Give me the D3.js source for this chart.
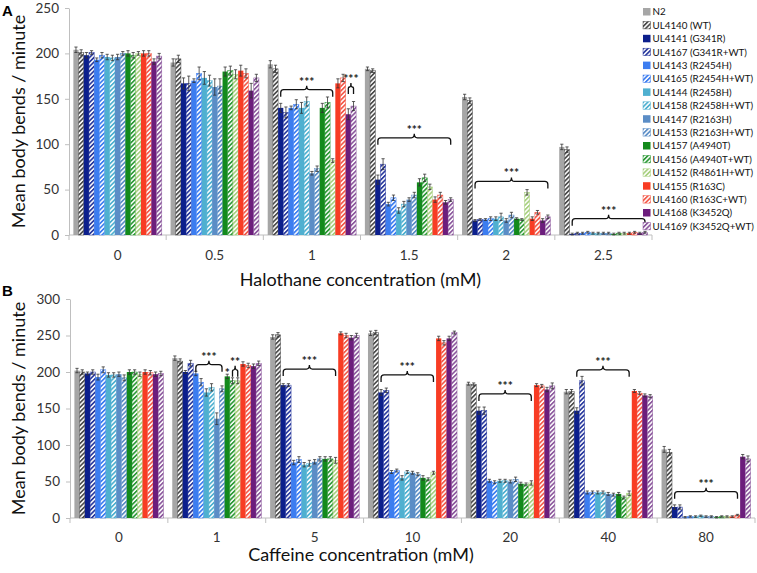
<!DOCTYPE html>
<html><head><meta charset="utf-8">
<script src="https://cdn.jsdelivr.net/npm/d3@7"></script>
<style>body{margin:0;background:#fff}svg{display:block}text{font-family:Lato,"Open Sans",sans-serif}</style>
</head><body><svg id="c" width="757" height="573"></svg>
<script>
// ---------- DATA ----------
const strains = ["N2","UL4140 (WT)","UL4141 (G341R)","UL4167 (G341R+WT)","UL4143 (R2454H)","UL4165 (R2454H+WT)","UL4144 (R2458H)","UL4158 (R2458H+WT)","UL4147 (R2163H)","UL4153 (R2163H+WT)","UL4157 (A4940T)","UL4156 (A4940T+WT)","UL4152 (R4861H+WT)","UL4155 (R163C)","UL4160 (R163C+WT)","UL4168 (K3452Q)","UL4169 (K3452Q+WT)"];
const strainColors = ["#a6a6a6","#4d4d4d","#0c1f8c","#2a3a9e","#3c7df0","#3c7df0","#4fb0d0","#4fb0d0","#5b8dc6","#5b8dc6","#138a1c","#2e9a38","#a8d080","#f83c24","#f35a4a","#6c1d7c","#8d5a9e"];
const strainHatched = [false,true,false,true,false,true,false,true,false,true,false,true,true,false,true,false,true];

const halothaneLabels = ["0","0.5","1","1.5","2","2.5"];
const halothane0  = [204,201,198,201,193,198,196,195,196,200,200,198,200,200,200,191,197];
const halothane05 = [190,194,167,167,170,178,173,170,163,164,180,181,177,181,178,159,173];
const halothane1  = [188,183,140,135,140,144,140,147,68,73,140,146,82,167,173,133,142];
const halothane15 = [183,181,61,78,34,41,27,34,39,44,58,63,53,39,44,36,39];
const halothane2  = [152,148,16,17,17,18,18,20,16,22,18,17,47,18,25,16,20];
const halothane25 = [97,94,1,2,2,3,2,2,2,2,1,2,2,2,3,2,3];
const halothaneErr0  = [3,3,3,2,2,3,3,3,3,2,3,3,2,3,3,3,3];
const halothaneErr05 = [4,4,6,8,2,7,7,6,9,8,5,5,5,6,5,8,4];
const halothaneErr1  = [4,4,5,6,2,5,6,5,2,3,5,6,2,5,4,6,5];
const halothaneErr15 = [2,2,5,6,2,3,3,3,2,3,4,4,3,3,3,2,2];
const halothaneErr2  = [3,3,1,1,1,2,2,4,2,3,1,1,3,2,2,2,2];
const halothaneErr25 = [3,3,1,1,1,1,1,1,1,1,1,1,1,1,1,1,1];
const halothaneBrackets = [
  {group:2, from:2, to:12, level:160, label:"***"},
  {group:2, from:15, to:16, level:163, label:"***"},
  {group:3, from:2, to:16, level:107, label:"***"},
  {group:4, from:2, to:16, level:59, label:"***"},
  {group:5, from:2, to:16, level:18, label:"***"}
];
const halothaneStars = [];

const caffeineLabels = ["0","1","5","10","20","40","80"];
const caffeine0  = [202,200,198,200,193,203,196,196,197,192,200,200,197,200,199,197,198];
const caffeine1  = [219,215,200,212,198,186,172,179,136,177,194,188,188,211,209,208,212];
const caffeine5  = [248,251,182,182,76,80,73,75,77,81,81,81,79,253,250,247,250];
const caffeine10 = [253,254,172,175,63,65,55,63,62,60,55,53,62,246,240,246,254];
const caffeine20 = [184,183,147,147,51,49,51,51,50,53,47,46,48,182,181,176,181];
const caffeine40 = [173,173,147,188,35,35,35,35,33,32,33,28,34,174,171,168,167];
const caffeine80 = [94,90,15,15,1,2,2,3,2,2,1,2,2,2,4,84,81];
const caffeineErr0  = [3,3,2,3,4,4,3,3,3,4,3,3,3,3,3,3,3];
const caffeineErr1  = [3,3,2,4,3,5,5,5,8,4,3,4,4,3,3,3,3];
const caffeineErr5  = [3,3,2,2,3,4,3,4,3,3,3,3,4,2,3,3,3];
const caffeineErr10 = [3,3,4,3,2,2,3,2,2,2,3,2,2,3,3,3,2];
const caffeineErr20 = [2,2,5,5,2,2,2,2,2,3,2,2,3,2,2,3,4];
const caffeineErr40 = [3,3,4,6,2,2,2,2,2,2,2,2,3,2,2,2,2];
const caffeineErr80 = [4,4,3,3,1,1,1,1,1,1,1,1,1,1,1,3,4];
const caffeineBrackets = [
  {group:1, from:4, to:9, level:210, label:"***"},
  {group:1, from:11, to:12, level:203, label:"**"},
  {group:2, from:2, to:12, level:204, label:"***"},
  {group:3, from:2, to:12, level:196, label:"***"},
  {group:4, from:2, to:12, level:170, label:"***"},
  {group:5, from:2, to:12, level:203, label:"***"},
  {group:6, from:2, to:14, level:36, label:"***"}
];
const caffeineStars = [{group:1, at:10, level:195, label:"*"}];

const yTicksA = [0,50,100,150,200,250];
const yTicksB = [0,50,100,150,200,250,300];

// ---------- DRAW ----------
const svg = d3.select("#c");
svg.append("rect").attr("width",757).attr("height",573).attr("fill","#fff");
const defs = svg.append("defs");
strains.forEach((s,i)=>{
  if(!strainHatched[i]) return;
  const p = defs.append("pattern").attr("id","hatch"+i).attr("patternUnits","userSpaceOnUse")
    .attr("width",3.2).attr("height",3.2).attr("patternTransform","rotate(45)");
  p.append("rect").attr("width",3.2).attr("height",3.2).attr("fill","#fff");
  p.append("rect").attr("width",1.7).attr("height",3.2).attr("fill",strainColors[i]);
});
const fillOf = i => strainHatched[i] ? `url(#hatch${i})` : strainColors[i];

function drawPanel(o){
  const g = svg.append("g");
  const gx = d3.scaleBand().domain(o.labels).range([o.x0,o.x1]).paddingInner(0.09).paddingOuter(0.045);
  const ix = d3.scaleBand().domain(d3.range(strains.length)).range([0,gx.bandwidth()]);
  const y = d3.scaleLinear().domain([0,o.yMax]).range([o.y0,o.y1]);

  // y axis
  const ya = g.append("g").attr("transform",`translate(${o.x0},0)`)
    .call(d3.axisLeft(y).tickValues(o.yTicks).tickSize(4).tickSizeOuter(0).tickPadding(6));
  ya.select(".domain").attr("stroke","#bfbfbf");
  ya.selectAll(".tick line").attr("stroke","#bfbfbf");
  ya.selectAll(".tick text").attr("font-size",13.5).attr("fill","#333").style("font-family","Lato, sans-serif");

  // x axis
  g.append("line").attr("x1",o.x0).attr("x2",o.x1).attr("y1",y(0)).attr("y2",y(0)).attr("stroke","#bfbfbf");
  d3.range(o.labels.length+1).forEach(i=>{
    const bx = o.x0 + i*gx.step();
    g.append("line").attr("x1",bx).attr("x2",bx).attr("y1",y(0)).attr("y2",y(0)+5).attr("stroke","#bfbfbf");
  });
  g.selectAll(".xl").data(o.labels).join("text")
    .attr("x",d=>gx(d)+gx.bandwidth()/2).attr("y",o.labelY).attr("dy","0.35em")
    .attr("text-anchor","middle").attr("font-size",13.5).attr("fill","#333").text(d=>d);

  // bars
  o.values.forEach((vals,gi)=>{
    const gl = o.labels[gi];
    const bg = g.append("g").attr("transform",`translate(${gx(gl)},0)`);
    vals.forEach((v,si)=>{
      bg.append("rect").attr("x",ix(si)).attr("width",ix.bandwidth())
        .attr("y",y(v)).attr("height",y(0)-y(v)).attr("fill",fillOf(si))
        .attr("stroke",strainHatched[si]?strainColors[si]:"none").attr("stroke-width",0.5);
      const e = o.errors[gi][si];
      const cx = ix(si)+ix.bandwidth()/2;
      const top = y(v+e), bot = y(Math.max(0,v-e));
      bg.append("line").attr("x1",cx).attr("x2",cx).attr("y1",top).attr("y2",bot).attr("stroke","#333").attr("stroke-width",0.8);
      [top,bot].forEach(yy=>bg.append("line").attr("x1",cx-1.6).attr("x2",cx+1.6).attr("y1",yy).attr("y2",yy).attr("stroke","#333").attr("stroke-width",0.8));
    });
  });

  // brackets
  o.brackets.forEach(b=>{
    const base = gx(o.labels[b.group]);
    const x1 = base + ix(b.from) + ix.bandwidth()/2;
    const x2 = base + ix(b.to) + ix.bandwidth()/2;
    const yy = y(b.level);
    const m = (x1+x2)/2, w = x2-x1;
    const r = Math.min(3, w/4), h = 7, bump = 4;
    const path = `M${x1},${yy+h} L${x1},${yy+r} Q${x1},${yy} ${x1+r},${yy} L${m-r},${yy} Q${m},${yy} ${m},${yy-bump} Q${m},${yy} ${m+r},${yy} L${x2-r},${yy} Q${x2},${yy} ${x2},${yy+r} L${x2},${yy+h}`;
    g.append("path").attr("d",path).attr("fill","none").attr("stroke","#111").attr("stroke-width",1.3);
    g.append("text").attr("x",m).attr("y",yy-bump).attr("text-anchor","middle")
      .attr("font-size",12).attr("font-weight","bold").attr("fill","#222").text(b.label);
  });
  o.stars.forEach(s=>{
    const base = gx(o.labels[s.group]);
    g.append("text").attr("x",base+ix(s.at)+ix.bandwidth()/2).attr("y",y(s.level)+1)
      .attr("text-anchor","middle").attr("font-size",12).attr("font-weight","bold").attr("fill","#222").text(s.label);
  });

  // titles
  g.append("text").attr("x",(o.x0+o.xTitleRef)/2).attr("y",o.titleY).attr("dy","0.35em")
    .attr("text-anchor","middle").attr("font-size",18).attr("fill","#111").text(o.xTitle);
  g.append("text").attr("transform",`translate(19,${(o.y0+o.y1)/2}) rotate(-90)`).attr("dy","0.35em")
    .attr("text-anchor","middle").attr("font-size",18).attr("fill","#111").text(o.yTitle);
  g.append("text").attr("x",2).attr("y",o.letterY).attr("font-size",15).attr("font-weight","bold")
    .style("font-family","Arial, 'Liberation Sans', sans-serif").attr("fill","#000").text(o.letter);
}

drawPanel({
  x0:69, x1:652, y0:235, y1:8, yMax:250, yTicks:yTicksA,
  labels:halothaneLabels,
  values:[halothane0,halothane05,halothane1,halothane15,halothane2,halothane25],
  errors:[halothaneErr0,halothaneErr05,halothaneErr1,halothaneErr15,halothaneErr2,halothaneErr25],
  brackets:halothaneBrackets, stars:halothaneStars,
  labelY:255, titleY:280, xTitleRef:652, xTitle:"Halothane concentration (mM)",
  yTitle:"Mean body bends / minute", letter:"A", letterY:16
});
drawPanel({
  x0:70, x1:755, y0:518, y1:299, yMax:300, yTicks:yTicksB,
  labels:caffeineLabels,
  values:[caffeine0,caffeine1,caffeine5,caffeine10,caffeine20,caffeine40,caffeine80],
  errors:[caffeineErr0,caffeineErr1,caffeineErr5,caffeineErr10,caffeineErr20,caffeineErr40,caffeineErr80],
  brackets:caffeineBrackets, stars:caffeineStars,
  labelY:537, titleY:555, xTitleRef:652, xTitle:"Caffeine concentration (mM)",
  yTitle:"Mean body bends / minute", letter:"B", letterY:296
});

// legend
const lg = svg.append("g").attr("transform","translate(643,12)");
strains.forEach((s,i)=>{
  const row = lg.append("g").attr("transform",`translate(0,${i*13.4})`);
  row.append("rect").attr("x",0).attr("y",-4).attr("width",7.5).attr("height",7.5).attr("fill",fillOf(i))
    .attr("stroke",strainHatched[i]?strainColors[i]:"none").attr("stroke-width",0.5);
  row.append("text").attr("x",9.5).attr("y",0).attr("dy","0.35em").attr("font-size",9.8).attr("fill","#111").text(s);
});
</script></body></html>
